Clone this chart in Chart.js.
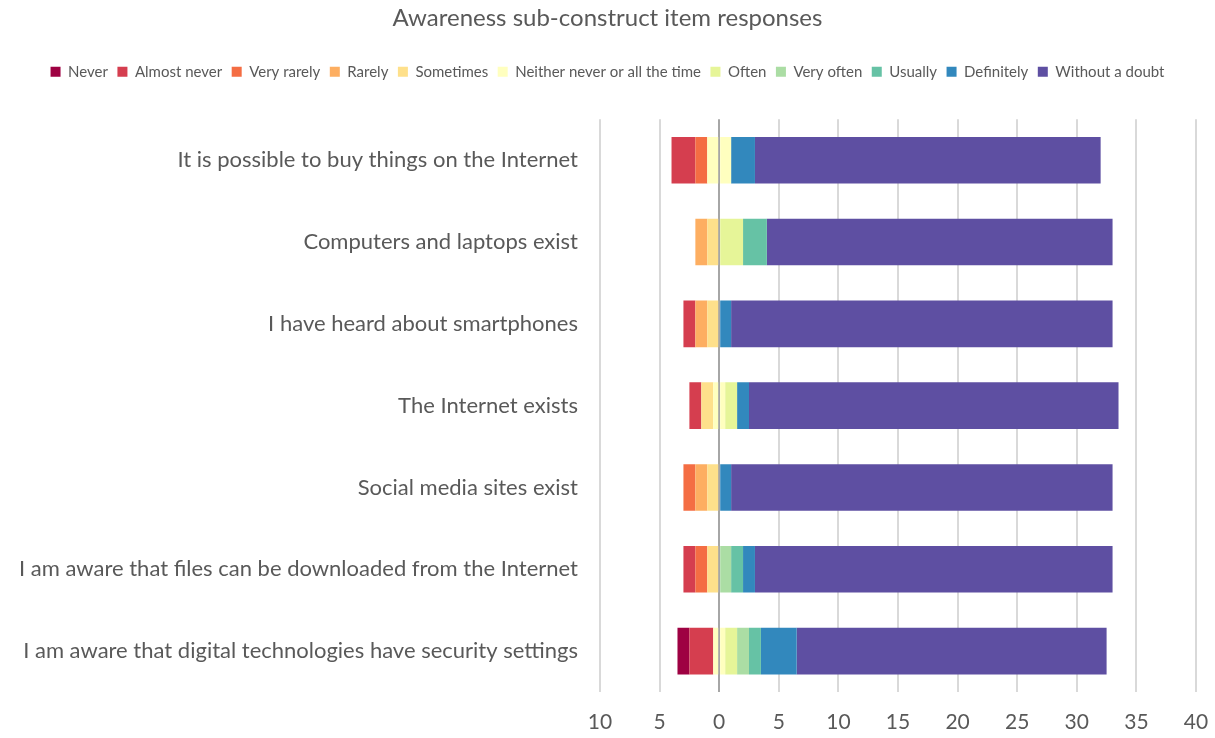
<!DOCTYPE html>
<html>
<head>
<meta charset="utf-8">
<script src="https://cdn.jsdelivr.net/npm/chart.js@4"></script>
<style>
  body { margin: 0; background: #fff; }
  #wrap { width: 1215px; height: 738px; }
</style>
</head>
<body>
<div id="wrap"><canvas id="AwarenessItems"></canvas></div>
<script>
// items, top to bottom
const items = [
    "It is possible to buy things on the Internet",
    "Computers and laptops exist",
    "I have heard about smartphones",
    "The Internet exists",
    "Social media sites exist",
    "I am aware that files can be downloaded from the Internet",
    "I am aware that digital technologies have security settings"
];

// response counts per item
const never        = [0, 0, 0, 0, 0, 0, 1];
const almostNever  = [2, 0, 1, 1, 0, 1, 2];
const veryRarely   = [1, 0, 0, 0, 1, 1, 0];
const rarely       = [0, 1, 1, 0, 1, 0, 0];
const sometimes    = [0, 1, 1, 1, 1, 1, 0];
const neither      = [2, 0, 0, 1, 0, 0, 1];
const often        = [0, 2, 0, 1, 0, 0, 1];
const veryOften    = [0, 0, 0, 0, 0, 1, 1];
const usually      = [0, 2, 0, 0, 0, 1, 1];
const definitely   = [2, 0, 1, 1, 1, 1, 3];
const withoutDoubt = [29, 29, 32, 31, 32, 30, 26];

const xTicks = [-10, -5, 0, 5, 10, 15, 20, 25, 30, 35, 40];

const legendOrder = ["Never","Almost never","Very rarely","Rarely","Sometimes","Neither never or all the time","Often","Very often","Usually","Definitely","Without a doubt"];

//Esquema de color (spectral)
const colores = {
    "Never": "#9E0142",
    "Almost never": "#D53E4F",
    "Very rarely": "#F46D43",
    "Rarely": "#FDAE61",
    "Sometimes": "#FEE08B",
    "Neither never or all the time": "#FFFFBF",
    "Often": "#E6F598",
    "Very often": "#ABDDA4",
    "Usually": "#66C2A5",
    "Definitely": "#3288BD",
    "Without a doubt": "#5E4FA2"
};

const neg = arr => arr.map(v => v === 0 ? null : -v);
const pos = arr => arr.map(v => v === 0 ? null : v);
const half = (arr, s) => arr.map(v => v === 0 ? null : s * v / 2);

function ds(label, data) {
    return { label: label, data: data, backgroundColor: colores[label], borderWidth: 0 };
}

// stacking order: closest to zero first on each side
const datasets = [
    ds("Neither never or all the time", half(neither, -1)),
    ds("Sometimes", neg(sometimes)),
    ds("Rarely", neg(rarely)),
    ds("Very rarely", neg(veryRarely)),
    ds("Almost never", neg(almostNever)),
    ds("Never", neg(never)),
    ds("Neither never or all the time", half(neither, 1)),
    ds("Often", pos(often)),
    ds("Very often", pos(veryOften)),
    ds("Usually", pos(usually)),
    ds("Definitely", pos(definitely)),
    ds("Without a doubt", pos(withoutDoubt))
];

const gris = "#595959";

// extra space under the legend
const legendMargin = {
    id: "legendMargin",
    beforeInit(chart) {
        const fit = chart.legend.fit;
        chart.legend.fit = function () {
            fit.bind(chart.legend)();
            this.height += 30;
        };
    }
};

new Chart("AwarenessItems", {
    type: "bar",
    data: { labels: items, datasets: datasets },
    plugins: [legendMargin],
    options: {
        indexAxis: "y",
        responsive: true,
        maintainAspectRatio: false,
        animation: false,
        layout: { padding: { left: 19, right: 19, top: 2, bottom: 2 } },
        datasets: { bar: { barPercentage: 0.57, categoryPercentage: 1 } },
        scales: {
            x: {
                stacked: true,
                min: -10,
                max: 40,
                afterBuildTicks: s => { s.ticks = xTicks.map(v => ({ value: v })); },
                afterFit: s => { s.height = 44; s.paddingLeft = 0; s.paddingRight = 0; },
                ticks: {
                    callback: v => Math.abs(v),
                    color: gris,
                    font: { family: "Lato", size: 21 },
                    padding: 18
                },
                grid: {
                    drawTicks: false,
                    color: c => c.tick && c.tick.value === 0 ? "#a6a6a6" : "#d9d9d9",
                    lineWidth: 2
                },
                border: { display: false }
            },
            y: {
                stacked: true,
                afterFit: s => { s.width = 581; },
                ticks: {
                    color: gris,
                    font: { family: "Lato", size: 22 },
                    padding: 14
                },
                grid: { display: false },
                border: { display: false }
            }
        },
        plugins: {
            title: {
                display: true,
                text: "Awareness sub-construct item responses",
                color: gris,
                font: { family: "Lato", size: 24, weight: "normal" },
                padding: { top: 2, bottom: 22 }
            },
            legend: {
                position: "top",
                labels: {
                    color: gris,
                    font: { family: "Lato", size: 15 },
                    boxWidth: 10,
                    boxHeight: 10,
                    padding: 9.5,
                    filter: it => it.datasetIndex !== 0,
                    sort: (a, b) => legendOrder.indexOf(a.text) - legendOrder.indexOf(b.text)
                },
                onClick: () => {}
            },
            tooltip: { enabled: true }
        }
    }
});
</script>
</body>
</html>
